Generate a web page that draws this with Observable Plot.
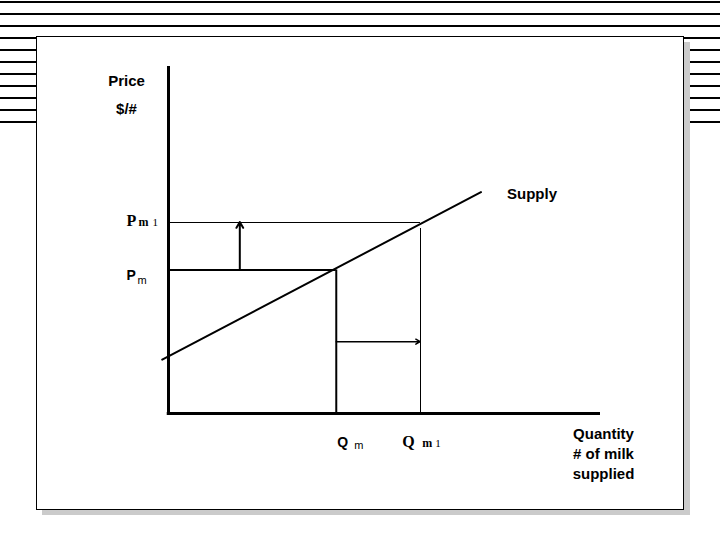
<!DOCTYPE html>
<html>
<head>
<meta charset="utf-8">
<script src="https://cdn.jsdelivr.net/npm/d3@7"></script>
<script src="https://cdn.jsdelivr.net/npm/@observablehq/plot@0.6"></script>
<style>
  html, body { margin: 0; padding: 0; background: #fff; }
  #wrap { position: relative; width: 720px; height: 540px; background: #fff; overflow: hidden; }
  .stripe { position: absolute; left: 0; width: 720px; height: 2px; background: #000; }
  #shadow { position: absolute; left: 42px; top: 42px; width: 648px; height: 473px; background: #cbcbcb; }
  #box { position: absolute; left: 36px; top: 36px; width: 648px; height: 474px; box-sizing: border-box; border: 1px solid #000; background: #fff; }
  #chart { position: absolute; left: 0; top: 0; }
</style>
</head>
<body>
<div id="wrap">
  <div id="shadow"></div>
  <div id="box"></div>
  <div id="chart"></div>
</div>
<script>
// ---- data (abstract units: quantity on x, price on y) ----
const qLabels = ["Qm", "Qm1"];
const qValues = [4, 6];            // Qm, Qm1
const pLabels = ["Pm", "Pm1"];
const pValues = [6, 8];            // Pm, Pm1
const supplyQ = [-0.15, 7.45];     // supply line end points (quantity)
const supplyP = [2.25, 9.25];      // supply line end points (price)
const axisMax = [10.3, 14.5];      // quantity axis length, price axis length
const qm1GuideTop = 7.75;          // top of thin Qm1 guide line
const priceArrowQ = 1.7;           // position of the price-rise arrow
const qtyArrowP = 3;               // position of the quantity-rise arrow
const stripeCount = 11;

// decorative background stripes
const wrap = document.getElementById("wrap");
for (let i = 0; i < stripeCount; i++) {
  const s = document.createElement("div");
  s.className = "stripe";
  s.style.top = (1 + 12 * i) + "px";
  wrap.insertBefore(s, wrap.firstChild);
}

const [Qm, Qm1] = qValues;
const [Pm, Pm1] = pValues;
const supply = supplyQ.map((q, i) => ({q, p: supplyP[i]}));

const sans = "Liberation Sans, Arial, Helvetica, sans-serif";
const serif = "Liberation Serif, Times New Roman, serif";
const T = (txt, o) => Plot.text([txt], {textAnchor: "start", lineAnchor: "bottom", fill: "#000", ...o});

const chart = Plot.plot({
  width: 720,
  height: 540,
  marginLeft: 168,
  marginRight: 120,
  marginTop: 66,
  marginBottom: 127,
  style: {background: "transparent", overflow: "visible"},
  x: {domain: [0, axisMax[0]], axis: null},
  y: {domain: [0, axisMax[1]], axis: null},
  marks: [
    // guide lines
    Plot.ruleY([Pm1], {x1: 0, x2: Qm1, stroke: "#000", strokeWidth: 1, shapeRendering: "crispEdges"}),
    Plot.ruleX([Qm1], {y1: 0, y2: qm1GuideTop, stroke: "#000", strokeWidth: 1, shapeRendering: "crispEdges"}),
    Plot.ruleY([Pm], {x1: 0, x2: Qm, stroke: "#000", strokeWidth: 2}),
    Plot.ruleX([Qm], {y1: 0, y2: Pm, stroke: "#000", strokeWidth: 2}),
    // arrows
    Plot.arrow([{x1: priceArrowQ, y1: Pm, x2: priceArrowQ, y2: Pm1}], {x1: "x1", y1: "y1", x2: "x2", y2: "y2", stroke: "#000", strokeWidth: 2, headLength: 5}),
    Plot.arrow([{x1: Qm, y1: qtyArrowP, x2: Qm1, y2: qtyArrowP}], {x1: "x1", y1: "y1", x2: "x2", y2: "y2", stroke: "#000", strokeWidth: 1.5, headLength: 5}),
    // supply curve
    Plot.line(supply, {x: "q", y: "p", stroke: "#000", strokeWidth: 2}),
    // axes
    Plot.ruleX([0], {y1: 0, y2: axisMax[1], stroke: "#000", strokeWidth: 3}),
    Plot.ruleY([0], {x1: -0.03, x2: axisMax[0], stroke: "#000", strokeWidth: 3}),
    // axis titles
    T("Price", {x: 0, y: axisMax[1], dx: -42, dy: 19, textAnchor: "middle", fontFamily: sans, fontWeight: "bold", fontSize: 15}),
    T("$/#", {x: 0, y: axisMax[1], dx: -42, dy: 47, textAnchor: "middle", fontFamily: sans, fontWeight: "bold", fontSize: 15}),
    T("Quantity\n# of milk\nsupplied", {x: axisMax[0], y: 0, dx: 3, dy: 65, textAnchor: "middle", lineHeight: 1.33, fontFamily: sans, fontWeight: "bold", fontSize: 15}),
    T("Supply", {x: supplyQ[1], y: supplyP[1], dx: 26, dy: 7, fontFamily: sans, fontWeight: "bold", fontSize: 15}),
    // price labels
    T("P", {x: 0, y: Pm1, dx: -42, dy: 4, fontFamily: serif, fontWeight: "bold", fontSize: 16}),
    T("m", {x: 0, y: Pm1, dx: -30, dy: 4, fontFamily: serif, fontWeight: "bold", fontSize: 12}),
    T("1", {x: 0, y: Pm1, dx: -16, dy: 4, fontFamily: serif, fontSize: 11}),
    T("P", {x: 0, y: Pm, dx: -42, dy: 9.6, fontFamily: sans, fontWeight: "bold", fontSize: 14}),
    T("m", {x: 0, y: Pm, dx: -31, dy: 13.6, fontFamily: sans, fontSize: 11}),
    // quantity labels
    T("Q", {x: Qm, y: 0, dx: 1, dy: 33, fontFamily: sans, fontWeight: "bold", fontSize: 14}),
    T("m", {x: Qm, y: 0, dx: 18, dy: 35, fontFamily: sans, fontSize: 11}),
    T("Q", {x: Qm1, y: 0, dx: -18, dy: 33, fontFamily: serif, fontWeight: "bold", fontSize: 16}),
    T("m", {x: Qm1, y: 0, dx: 2, dy: 33, fontFamily: serif, fontWeight: "bold", fontSize: 12}),
    T("1", {x: Qm1, y: 0, dx: 15, dy: 33, fontFamily: serif, fontSize: 11})
  ]
});
document.getElementById("chart").appendChild(chart);
</script>
</body>
</html>
